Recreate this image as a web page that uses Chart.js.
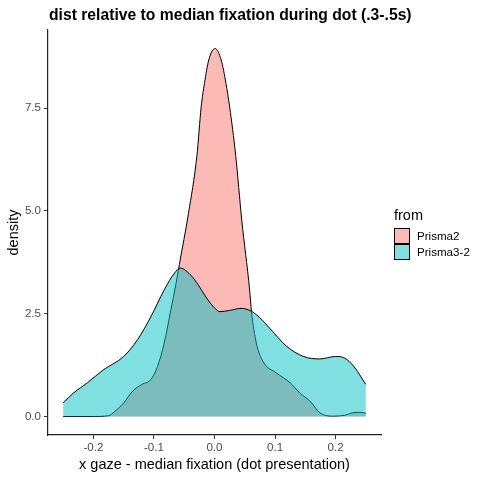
<!DOCTYPE html>
<html>
<head>
<meta charset="utf-8">
<script src="https://cdn.jsdelivr.net/npm/chart.js@4/dist/chart.umd.min.js"></script>
<style>
  html, body { margin: 0; padding: 0; background: #fff; }
  #wrap { width: 480px; height: 480px; }
</style>
</head>
<body>
<div id="wrap"><canvas id="densityChart" width="480" height="480"></canvas></div>
<script>
// values
const chartTitle = 'dist relative to median fixation during dot (.3-.5s)';
const legendTitle = 'from';
const seriesNames = ['Prisma2', 'Prisma3-2'];
const seriesColors = ['rgba(248, 118, 109, 0.5)', 'rgba(0, 191, 196, 0.5)'];

const prisma2X = [-0.25, -0.2, -0.175, -0.165, -0.15, -0.135, -0.12, -0.105, -0.094, -0.083, -0.072, -0.064,
  -0.058, -0.043, -0.029, -0.022, -0.0166, -0.0095, 0.001, 0.011, 0.019, 0.025, 0.035, 0.045, 0.058, 0.061,
  0.069, 0.08, 0.102, 0.125, 0.141, 0.158, 0.174, 0.197, 0.215, 0.232, 0.242, 0.25];
const prisma2Y = [0, 0, 0.02, 0.12, 0.33, 0.62, 0.78, 0.9, 1.22, 1.79, 2.6, 3.2,
  3.7, 4.94, 6.35, 7.53, 8.1, 8.67, 8.95, 8.67, 8.1, 7.53, 6.35, 4.78, 3.08, 2.56,
  1.79, 1.34, 1.06, 0.82, 0.57, 0.37, 0.09, 0.01, 0.03, 0.1, 0.1, 0.08];

const prisma3X = [-0.25, -0.233, -0.21, -0.183, -0.15, -0.127, -0.105, -0.083, -0.066, -0.056, -0.045, -0.033,
  -0.011, 0, 0.009, 0.025, 0.044, 0.061, 0.075, 0.091, 0.119, 0.147, 0.174, 0.2, 0.215, 0.23, 0.25];
const prisma3Y = [0.33, 0.57, 0.82, 1.14, 1.46, 1.87, 2.43, 3.08, 3.49, 3.61, 3.52, 3.33,
  2.84, 2.64, 2.55, 2.58, 2.63, 2.56, 2.4, 2.15, 1.71, 1.46, 1.4, 1.46, 1.42, 1.22, 0.78];

const xTicks = [-0.2, -0.1, 0.0, 0.1, 0.2];
const yTicks = [0, 2.5, 5, 7.5];

const FONT = '"Liberation Sans", Arial, sans-serif';

function points(xs, ys) {
  return xs.map((x, i) => ({ x: x, y: ys[i] }));
}

// title over the panel and ggplot style legend on the right
const sideText = {
  id: 'sideText',
  afterDraw(chart) {
    const ctx = chart.ctx;
    ctx.save();
    ctx.textAlign = 'left';
    ctx.textBaseline = 'alphabetic';
    ctx.fillStyle = '#000';
    ctx.font = 'bold 15.7px ' + FONT;
    ctx.fillText(chartTitle, chart.chartArea.left + 1, 20);

    ctx.font = '14.5px ' + FONT;
    ctx.fillText(legendTitle, 394, 220);
    chart.data.datasets.forEach((ds, i) => {
      const top = 228 + i * 16;
      ctx.fillStyle = '#fff';
      ctx.fillRect(394, top, 16, 16);
      ctx.fillStyle = ds.backgroundColor;
      ctx.fillRect(394, top, 16, 16);
      ctx.strokeStyle = '#000';
      ctx.lineWidth = 1;
      ctx.strokeRect(394.5, top + 0.5, 15, 15);
      ctx.fillStyle = '#000';
      ctx.font = '11.6px ' + FONT;
      ctx.textBaseline = 'middle';
      ctx.fillText(ds.label, 417, top + 8.5);
    });
    ctx.restore();
  }
};

const tickLabel = v => Number(v).toFixed(1);

new Chart(document.getElementById('densityChart').getContext('2d'), {
  type: 'line',
  data: {
    datasets: [{
      label: seriesNames[0],
      data: points(prisma2X, prisma2Y),
      backgroundColor: seriesColors[0],
      borderColor: '#000',
      borderWidth: 1,
      fill: 'origin',
      pointRadius: 0,
      cubicInterpolationMode: 'monotone',
      order: 1
    }, {
      label: seriesNames[1],
      data: points(prisma3X, prisma3Y),
      backgroundColor: seriesColors[1],
      borderColor: '#000',
      borderWidth: 1,
      fill: 'origin',
      pointRadius: 0,
      cubicInterpolationMode: 'monotone',
      order: 0
    }]
  },
  options: {
    responsive: false,
    animation: false,
    devicePixelRatio: 1,
    layout: { padding: { top: 30, right: 99, bottom: 0, left: 0 } },
    plugins: {
      legend: { display: false },
      tooltip: { enabled: false },
      title: { display: false }
    },
    scales: {
      x: {
        type: 'linear',
        min: -0.275,
        max: 0.275,
        afterBuildTicks: scale => { scale.ticks = xTicks.map(v => ({ value: v })); },
        afterFit: scale => { scale.height = 45; },
        ticks: {
          callback: tickLabel,
          color: '#4D4D4D',
          font: { family: FONT, size: 11.6 },
          padding: 2,
          maxRotation: 0
        },
        grid: { display: true, drawOnChartArea: false, drawTicks: true, tickLength: 4, color: '#333' },
        border: { display: true, color: '#222', width: 1.2 },
        title: {
          display: true,
          text: 'x gaze - median fixation (dot presentation)',
          color: '#000',
          font: { family: FONT, size: 14.5 },
          padding: { top: 0, bottom: 6 }
        }
      },
      y: {
        type: 'linear',
        min: -0.45,
        max: 9.4,
        afterBuildTicks: scale => { scale.ticks = yTicks.map(v => ({ value: v })); },
        afterFit: scale => { scale.width = 48; },
        ticks: {
          callback: tickLabel,
          color: '#4D4D4D',
          font: { family: FONT, size: 11.6 },
          padding: 3
        },
        grid: { display: true, drawOnChartArea: false, drawTicks: true, tickLength: 4, color: '#333' },
        border: { display: true, color: '#222', width: 1.2 },
        title: {
          display: true,
          text: 'density',
          color: '#000',
          font: { family: FONT, size: 14.5 },
          padding: { top: 5, bottom: 5 }
        }
      }
    }
  },
  plugins: [sideText]
});
</script>
</body>
</html>
